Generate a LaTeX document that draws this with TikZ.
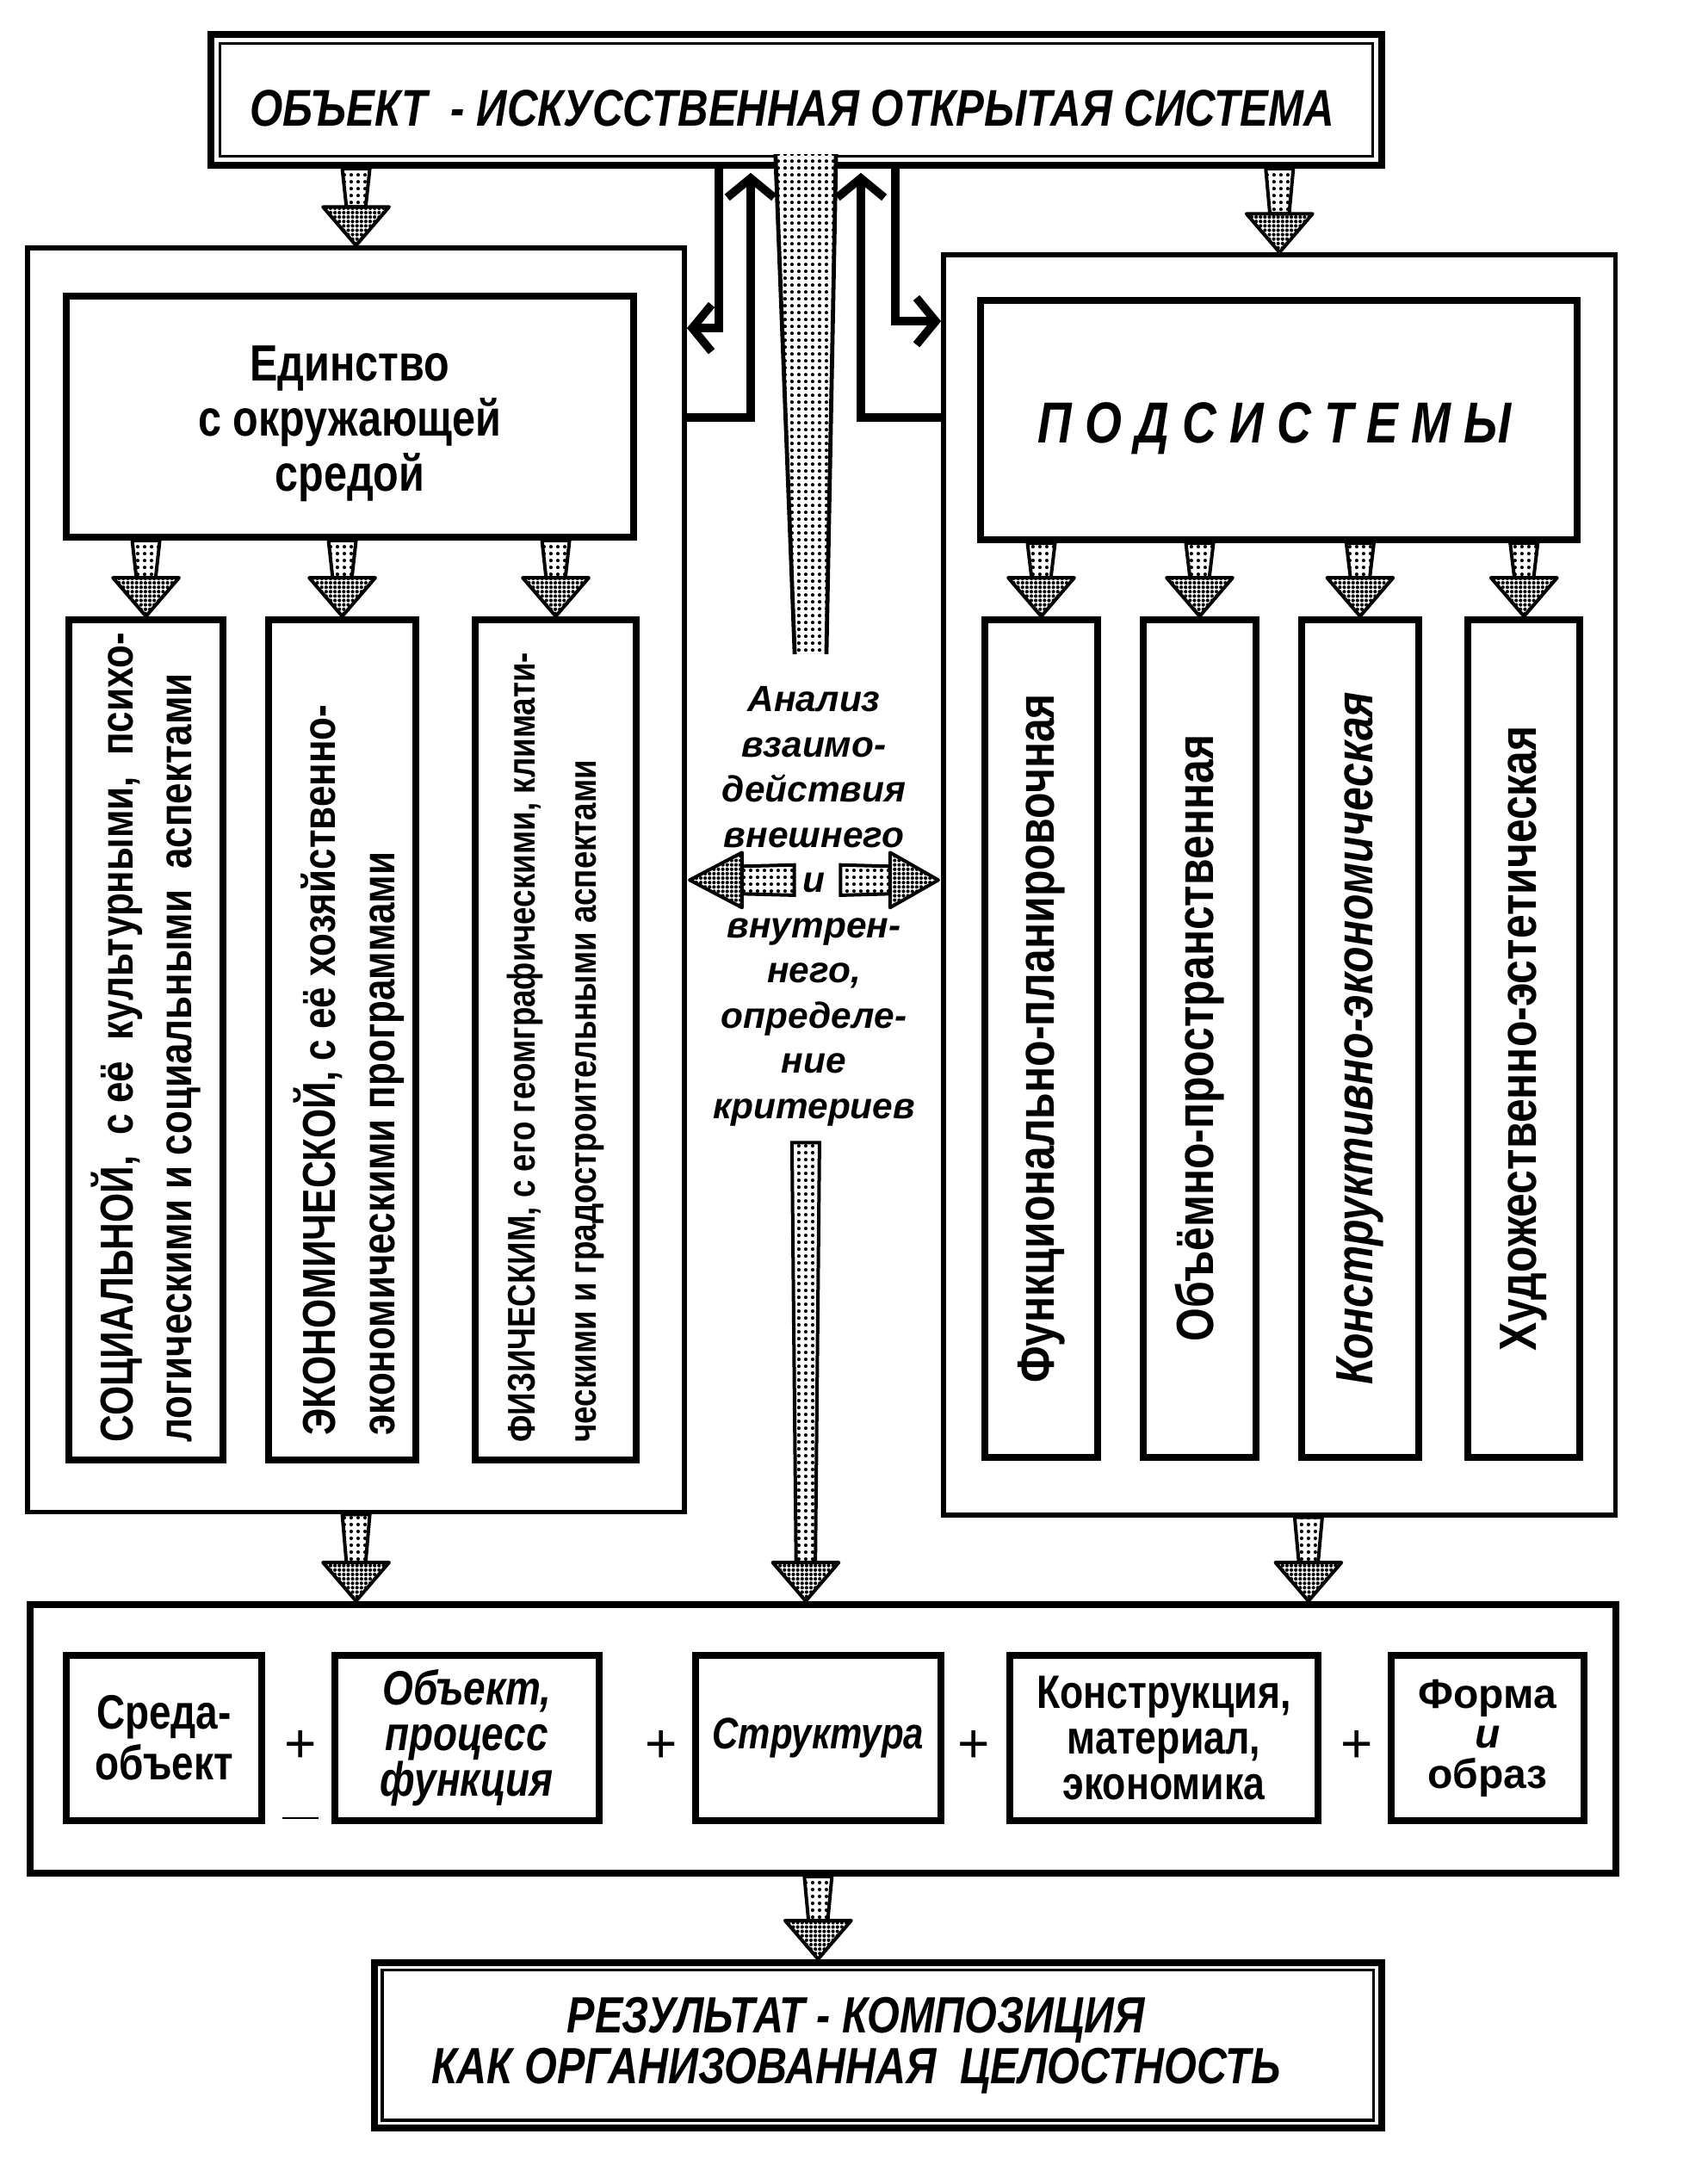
\documentclass[tikz,border=0pt]{standalone}
\usepackage{fontspec}
\setmainfont{Liberation Sans}
\newfontfamily\narrowf[FakeStretch=0.82]{Liberation Sans}
\usetikzlibrary{calc}
\usetikzlibrary{arrows.meta}
\usetikzlibrary{patterns.meta}

% stippled block arrow, from #1 down to #2
\newcommand{\dotarrow}[2]{%
  \path[stipple] let \p1=(#1), \p2=(#2) in
    (\x1-10pt,\y1) -- (\x1+10pt,\y1) -- (\x1+7pt,\y2+28pt) -- (\x1-7pt,\y2+28pt) -- cycle;
  \path[stipplehead] let \p1=(#1), \p2=(#2) in
    (\x1+24pt,\y2+28pt) -- (\x1,\y2) -- (\x1-24pt,\y2+28pt) -- cycle;}

\begin{document}
\begin{tikzpicture}[x=1pt,y=-1pt,
   bigbox/.style={draw,line width=3.5pt,inner sep=0pt},
   headbox/.style={draw,line width=5pt,inner sep=0pt},
   colbox/.style={draw,line width=5pt,inner sep=0pt},
   partbox/.style={draw,line width=5pt,inner sep=0pt,minimum height=120pt,align=center,
      font=\narrowf\bfseries\fontsize{35}{37}\selectfont},
   lcoltext/.style={rotate=90,anchor=west,align=left,inner sep=0pt,
      font=\narrowf\bfseries\fontsize{33.5}{43}\selectfont},
   rcoltext/.style={font=\narrowf\bfseries\fontsize{38}{40}\selectfont},
   conn/.style={line width=6pt,-{Straight Barb[length=14pt,width=34pt]}},
   stipple/.style={draw,line width=2.5pt,pattern={Dots[radius=1.3pt,distance=5pt]}},
   stipplehead/.style={draw,line width=2.5pt,line join=round,pattern={Dots[radius=1.3pt,distance=3.2pt]}},
   plus/.style={inner sep=0pt,font=\fontsize{40}{40}\selectfont}]
  \useasboundingbox (0,0) rectangle (1240,1572);

  % top
  \node[bigbox,line width=5pt,minimum width=850pt,minimum height=95pt] (obj) at (578,72.5) {};
  \draw[line width=2pt] ([shift={(9pt,9pt)}]obj.south west) rectangle ([shift={(-9pt,-9pt)}]obj.north east);
  \node[font=\narrowf\bfseries\itshape\fontsize{37.5}{40}\selectfont] (objtext) at ([shift={(-3pt,-6pt)}]obj.center)
        {ОБЪЕКТ\ \ - ИСКУССТВЕННАЯ ОТКРЫТАЯ СИСТЕМА};

  % two halves
  \node[bigbox,minimum width=477pt,minimum height=918pt] (lbox) at (258.5,639) {};
  \node[bigbox,minimum width=488pt,minimum height=915pt] (rbox) at (929,642.5) {};

  \node[headbox,minimum width=412pt,minimum height=175pt] (env) at (254,302.5) {};
  \node[align=center,font=\narrowf\bfseries\fontsize{37}{40}\selectfont] (envtext) at ([yshift=-5pt]env.center)
        {Единство\\с окружающей\\средой};
  \node[headbox,minimum width=433pt,minimum height=174pt] (sub) at (928.5,305) {};
  \node[font=\narrowf\bfseries\itshape\fontsize{42}{44}\selectfont] (subtext) at ([shift={(-3pt,-6pt)}]sub.center)
        {П О Д С И С Т Е М Ы};

  % left columns
  \node[colbox,minimum width=112pt,minimum height=610pt] (ls) at (106,755) {};
  \node[colbox,minimum width=107pt,minimum height=610pt] (le) at (248.5,755) {};
  \node[colbox,minimum width=117pt,minimum height=610pt] (lp) at (403.5,755) {};
  \node[lcoltext] (lstext) at ([yshift=15pt]ls.south)
        {СОЦИАЛЬНОЙ,\ \ с её\ \ культурными,\ \ психо-\\логическими и социальными\ \ аспектами};
  \node[lcoltext] (letext) at ([xshift=5pt,yshift=20pt]le.south)
        {ЭКОНОМИЧЕСКОЙ, с её хозяйственно-\\экономическими программами};
  \node[lcoltext,font=\narrowf\bfseries\fontsize{28}{44}\selectfont] (lptext) at ([yshift=15pt]lp.south)
        {ФИЗИЧЕСКИМ, с его геомграфическими, климати-\\ческими и градостроительными аспектами};

  % right columns
  \node[colbox,minimum width=82pt,minimum height=608pt,rcoltext] (r1) at (756,754)
        {\rotatebox{90}{Функционально-планировочная}};
  \node[colbox,minimum width=82pt,minimum height=608pt,rcoltext] (r2) at (871,754)
        {\rotatebox{90}{Объёмно-пространственная}};
  \node[colbox,minimum width=85pt,minimum height=608pt,rcoltext] (r3) at (987.5,754)
        {\rotatebox{90}{\itshape Конструктивно-экономическая}};
  \node[colbox,minimum width=81pt,minimum height=608pt,rcoltext] (r4) at (1106.5,754)
        {\rotatebox{90}{Художественно-эстетическая}};

  % middle
  \path[pattern={Dots[radius=1.3pt,distance=5pt]},preaction={fill=white}]
     (563,112) -- (607,112) -- (600,475) -- (577,475) -- cycle;
  \draw[line width=3pt] (563,112) -- (577,475) (607,112) -- (600,475);
  \node[align=center,inner sep=0pt,
        font=\bfseries\itshape\fontsize{26.5}{32.8}\selectfont] (ana) at (591,658)
        {Анализ\\взаимо-\\действия\\внешнего\\и\\внутрен-\\него,\\определе-\\ние\\критериев};
  \path[stipplehead] let \p1=(lbox.east), \p2=(rbox.west |- lbox.east) in
     (\x1+2pt,\y1) -- (\x1+40pt,\y1+20pt) -- (\x1+40pt,\y1-20pt) -- cycle
     (\x2-2pt,\y2) -- (\x2-37pt,\y2+20pt) -- (\x2-37pt,\y2-20pt) -- cycle;
  \path[stipple] let \p1=(lbox.east), \p2=(rbox.west |- lbox.east) in
     (\x1+40pt,\y1+10pt) -- (\x1+78pt,\y1+11pt) -- (\x1+78pt,\y1-11pt) -- (\x1+40pt,\y1-10pt) -- cycle
     (\x2-37pt,\y2+10pt) -- (\x2-73pt,\y2+11pt) -- (\x2-73pt,\y2-11pt) -- (\x2-37pt,\y2-10pt) -- cycle;

  % feedback
  \draw[conn] ([xshift=-56pt]obj.south) |- ([yshift=-60pt]lbox.north east);
  \draw[conn] ([yshift=-125pt]lbox.north east) -| ([xshift=-33pt,yshift=-3pt]obj.south);
  \draw[conn] ([yshift=-120pt]rbox.north west) -| ([xshift=47pt,yshift=-3pt]obj.south);
  \draw[conn] ([xshift=72pt]obj.south) |- ([yshift=-50pt]rbox.north west);

  % bottom
  \node[bigbox,line width=5pt,minimum width=1151pt,minimum height=195pt] (syn) at (597.5,1262.5) {};
  \node[partbox,minimum width=142pt] (b1) at (119,1262) {Среда-\\объект};
  \node[partbox,minimum width=192pt,font=\narrowf\bfseries\itshape\fontsize{35}{33}\selectfont] (b2) at (339,1262)
        {Объект,\\процесс\\функция};
  \node[partbox,minimum width=178pt,font=\narrowf\bfseries\itshape\fontsize{32}{35}\selectfont] (b3) at (594,1262)
        {Структура};
  \node[partbox,minimum width=224pt,font=\narrowf\bfseries\fontsize{34}{33}\selectfont] (b4) at (845,1262)
        {Конструкция,\\материал,\\экономика};
  \node[partbox,minimum width=140pt,font=\bfseries\fontsize{30}{29}\selectfont] (b5) at (1080,1262)
        {Форма\\\textit{и}\\образ};
  \node[plus] (p1) at (218,1268) {+};
  \node[plus] (p2) at (480,1268) {+};
  \node[plus] (p3) at (707,1268) {+};
  \node[plus] (p4) at (985,1268) {+};
  \draw[line width=1pt] (205,1320) -- (231,1320);

  \node[bigbox,line width=5pt,minimum width=731pt,minimum height=120pt] (out) at (637.5,1485) {};
  \draw[line width=2pt] ([shift={(8pt,8pt)}]out.south west) rectangle ([shift={(-8pt,-8pt)}]out.north east);
  \node[align=center,font=\narrowf\bfseries\itshape\fontsize{37}{37}\selectfont] (outtext)
        at ([xshift=-16pt]out.center)
        {РЕЗУЛЬТАТ - КОМПОЗИЦИЯ\\КАК ОРГАНИЗОВАННАЯ\ \ ЦЕЛОСТНОСТЬ};

  % stippled arrows
  \dotarrow{obj.south -| lbox.north}{lbox.north}
  \dotarrow{obj.south -| rbox.north}{rbox.north}
  \dotarrow{env.south -| ls.north}{ls.north}
  \dotarrow{env.south -| le.north}{le.north}
  \dotarrow{env.south -| lp.north}{lp.north}
  \dotarrow{sub.south -| r1.north}{r1.north}
  \dotarrow{sub.south -| r2.north}{r2.north}
  \dotarrow{sub.south -| r3.north}{r3.north}
  \dotarrow{sub.south -| r4.north}{r4.north}
  \dotarrow{lbox.south}{lbox.south |- syn.north}
  \dotarrow{[xshift=21pt]rbox.south}{[xshift=21pt]rbox.south |- syn.north}
  \dotarrow{[xshift=-6pt,yshift=-12pt]ana.south}{[xshift=-6pt]ana.south |- syn.north}
  \dotarrow{syn.south -| b3.south}{b3.south |- out.north}
\end{tikzpicture}
\end{document}
